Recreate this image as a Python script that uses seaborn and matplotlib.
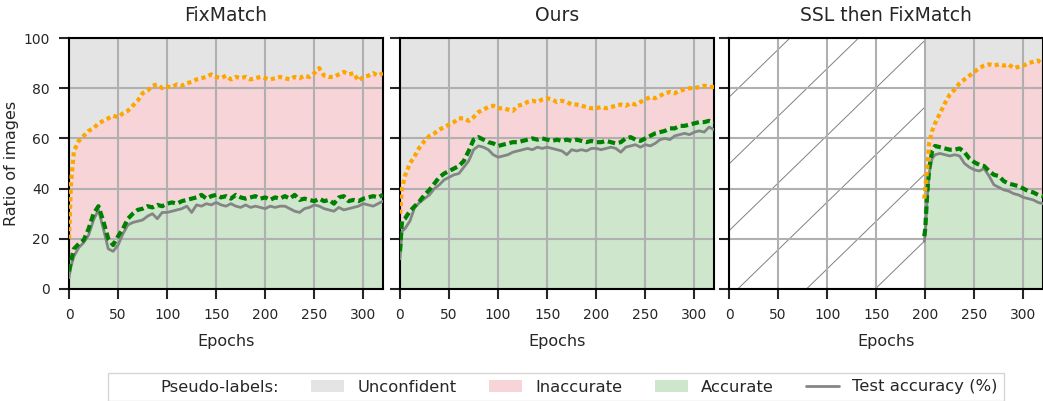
import numpy as np
import pandas as pd
import seaborn as sns
import matplotlib.pyplot as plt
from matplotlib.patches import Patch
from matplotlib.lines import Line2D

# ------------------------------
# Data
# ------------------------------
epochs = [0, 2] + list(range(5, 321, 5))

fixmatch_conf = [20, 42, 55, 59, 61, 63, 64, 66, 67, 68, 69, 68.5, 70, 71, 73, 75, 78, 79, 81, 81.5,
                 80, 80.5, 80.5, 81.5, 81, 82, 82.5, 83.5, 84, 84.5, 85.5, 84.5, 84, 85, 83.5, 84.5,
                 84, 84.5, 83.5, 84, 84.5, 84, 83.5, 84, 84.5, 84, 83.5, 84.5, 84, 85, 84.5, 86, 88,
                 85, 84.5, 84.5, 85.5, 86.5, 85.5, 86, 83, 84.5, 85, 86, 85, 86]
fixmatch_acc = [7, 11, 16, 18, 19.5, 24, 30, 33, 27, 20, 17.5, 21, 24, 28, 30, 31.5, 32, 33, 32.5,
                33.5, 33, 34, 34.5, 34, 35, 35.5, 36, 36.5, 37.5, 36, 37, 37.5, 36.5, 37, 36, 37.5,
                36.5, 36, 36.5, 37, 36, 36.5, 35.5, 36.5, 36, 37, 36, 37.5, 35.5, 36, 35.5, 35, 36,
                35, 35.5, 34, 36.5, 37, 35, 35.5, 35, 36, 36.5, 37, 36.5, 37.5]
fixmatch_test = [4.5, 9, 13, 16.5, 18.5, 21.5, 27.5, 31.5, 24, 16, 15, 17.5, 22, 25.5, 26.5, 27,
                 27.5, 29, 30, 28, 30.5, 30.5, 31, 31.5, 32, 33, 30.5, 33.5, 33, 34, 33.5, 34.5,
                 33.5, 33, 34, 33, 32.5, 33.5, 32.5, 33, 32.5, 32, 33, 32.5, 33, 33, 32, 31, 30.5,
                 32, 32.5, 33.5, 33, 32, 31.5, 31, 32.5, 31.5, 32, 32.5, 33, 34, 33.5, 33, 34, 35]

ours_conf = [30, 40, 45, 50, 53, 56.5, 59, 61, 62, 63.5, 64.5, 65.5, 66.5, 68, 68, 67, 68.5, 70.5,
             71.5, 72.5, 73, 72, 72, 71.5, 71, 73, 73.5, 74.5, 75, 74.5, 75.5, 76, 75.5, 74.5, 75,
             74.5, 73.5, 73.5, 73, 72.5, 72, 72, 72.5, 72, 72.5, 73, 73.5, 73, 74, 73.5, 74.5,
             75.5, 76.5, 76, 77, 78, 78.5, 78, 79, 79.5, 80, 80, 80.5, 81, 80.5, 80.5]
ours_acc = [15, 27, 28, 31, 33, 35, 37.5, 39.5, 42, 44.5, 46, 47, 48, 49, 51, 55, 59.5, 60.5, 59.5,
            58.5, 58, 57, 57.5, 58, 58.5, 58.5, 59, 59.5, 60, 59.5, 60, 59.5, 59, 59.5, 59, 59.5,
            59, 59.5, 59, 58.5, 59, 58.5, 58.5, 59, 58.5, 58, 58.5, 60, 60.5, 59.5, 59, 60, 61, 62,
            62.5, 63, 64, 64, 65, 65, 65.5, 66, 66.5, 66.5, 67, 66.5]
ours_test = [12, 23, 24, 27, 32.5, 34.5, 36, 37.5, 40, 41.5, 43.5, 44.5, 45.5, 46, 48.5, 51, 55.5,
             57, 56.5, 55.5, 53.5, 52.5, 53, 53.5, 54.5, 55, 55.5, 56, 55.5, 56.5, 56, 56.5, 56,
             55.5, 55, 53.5, 55.5, 55, 55.5, 55, 56, 56, 55.5, 56, 56.5, 56, 54.5, 56.5, 57, 57.5,
             56.5, 57.5, 57, 58, 59.5, 60, 59.5, 61, 61.5, 62, 61.5, 62.5, 63, 62.5, 64.5, 63.5]

epochs_ssl = [199, 200, 202, 204, 207] + list(range(210, 321, 5))
ssl_conf = [36, 40, 48, 58, 63, 66, 70, 74, 77.5, 79.5, 82, 83.5, 85, 86.5, 88, 89, 89.5, 89, 89.5,
            89, 89.5, 88, 88.5, 89, 90, 90.5, 91, 89.5]
ssl_acc = [21, 24, 38, 48, 55, 57, 56.5, 56, 55.5, 55.5, 56, 54.5, 52, 50.5, 49.5, 49, 47, 45.5, 45,
           43, 42, 41.5, 41, 40, 39, 38.5, 37.5, 37]
ssl_test = [19, 22, 36, 46, 52, 53.5, 54, 53.5, 53, 53.5, 53, 50, 48.5, 47.5, 47, 48, 45, 41.5, 40.5,
            39.5, 39, 38, 37.5, 36.5, 36, 35.5, 34.5, 34]

titles = ["FixMatch", "Ours", "SSL then FixMatch"]
panels = [
    (epochs, fixmatch_conf, fixmatch_acc, fixmatch_test),
    (epochs, ours_conf, ours_acc, ours_test),
    (epochs_ssl, ssl_conf, ssl_acc, ssl_test),
]

# colours
c_unconf = "#e4e4e4"
c_inacc = "#f6d4d7"
c_acc = "#cde6cc"

# ------------------------------
# Figure
# ------------------------------
sns.set_theme(style="ticks")
plt.rcParams["font.family"] = ["DejaVu Sans"]

fig = plt.figure(figsize=(10.43, 4.01), dpi=100)
W, H = 1043, 401
lefts = [69, 400, 729]
axes = []
for i, l in enumerate(lefts):
    ax = fig.add_axes([l / W, (H - 289) / H, 314 / W, 251 / H],
                      sharey=axes[0] if axes else None)
    axes.append(ax)

for i, (ax, (ep, conf, acc, test)) in enumerate(zip(axes, panels)):
    df = pd.DataFrame({"epoch": ep, "conf": conf, "acc": acc, "test": test})

    ax.fill_between(df["epoch"], df["conf"], 100, color=c_unconf, lw=0)
    ax.fill_between(df["epoch"], df["acc"], df["conf"], color=c_inacc, lw=0)
    ax.fill_between(df["epoch"], 0, df["acc"], color=c_acc, lw=0)

    sns.lineplot(data=df, x="epoch", y="test", ax=ax, color="#858585", lw=2, zorder=3)
    sns.lineplot(data=df, x="epoch", y="acc", ax=ax, color="green", lw=3,
                 linestyle=(0, (1.8, 0.9)), zorder=4)
    sns.lineplot(data=df, x="epoch", y="conf", ax=ax, color="orange", lw=3,
                 linestyle=(0, (1, 0.8)), zorder=5)

    if i == 2:
        # hatched region where the SSL pretraining happens
        span = ax.axvspan(0, 200, facecolor="white", edgecolor="none", zorder=0.5)
        for b in np.arange(-83.2, 100, 26.6):
            ln, = ax.plot([0, 200], [b, b + 0.38 * 200], color="gray", lw=0.7, zorder=1.2)
            ln.set_clip_path(span)

    ax.set_xlim(0, 320)
    ax.set_ylim(0, 100)
    ax.set_xticks([0, 50, 100, 150, 200, 250, 300])
    ax.set_yticks([0, 20, 40, 60, 80, 100])
    ax.set_facecolor("white")
    ax.grid(True, color="#b0b0b0", lw=1.5)
    ax.set_axisbelow("line")
    for s in ax.spines.values():
        s.set_linewidth(1.5)
        s.set_color("black")
    ax.tick_params(axis="both", length=7, width=1.5, pad=7, labelsize=10, direction="out")
    ax.set_title(titles[i], fontsize=13.5, pad=12)
    ax.set_xlabel("Epochs", fontsize=11.5, labelpad=8)
    if i == 0:
        ax.set_ylabel("Ratio of images", fontsize=11.5, labelpad=3)
    else:
        ax.set_ylabel("")
        ax.tick_params(axis="y", labelleft=False)

handles = [
    Patch(facecolor="none", edgecolor="none"),
    Patch(facecolor=c_unconf, edgecolor="none"),
    Patch(facecolor=c_inacc, edgecolor="none"),
    Patch(facecolor=c_acc, edgecolor="none"),
    Line2D([], [], color="#858585", lw=2),
]
labels = ["Pseudo-labels:", "Unconfident", "Inaccurate", "Accurate", "Test accuracy (%)"]
fig.legend(handles, labels, loc="center", ncol=5, fontsize=11.8,
           bbox_to_anchor=(556 / W, 1 - 387 / H), frameon=True, fancybox=False,
           edgecolor="#cccccc", columnspacing=2.0, handlelength=2.0, handletextpad=0.8)

fig.savefig("out.png", dpi=100)
